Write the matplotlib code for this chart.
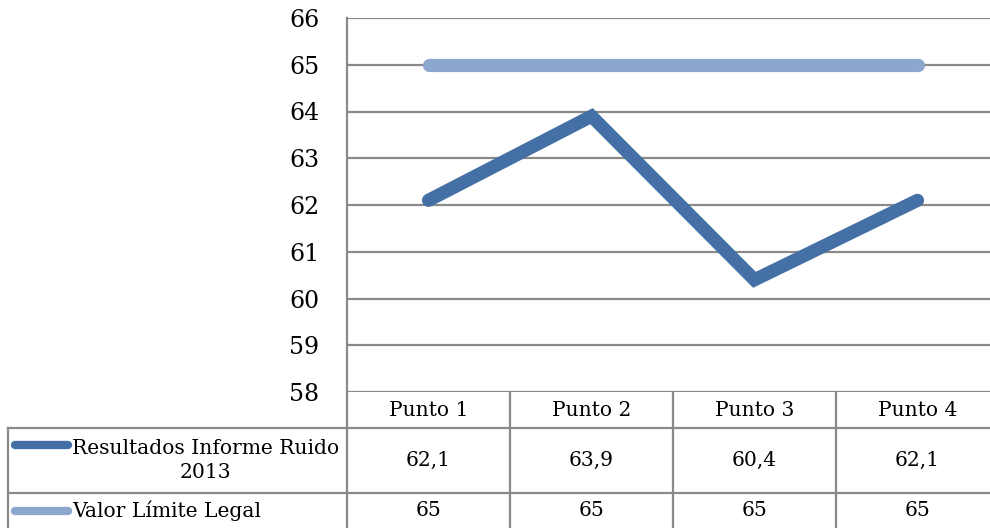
import matplotlib
matplotlib.use("Agg")
import matplotlib.pyplot as plt
from matplotlib.transforms import blended_transform_factory

# ---------------- data ---------------- #
categories = ["Punto 1", "Punto 2", "Punto 3", "Punto 4"]
ruido_2013 = [62.1, 63.9, 60.4, 62.1]
limite_legal = [65, 65, 65, 65]
series_names = ["Resultados Informe Ruido\n2013", "Valor Límite Legal"]
y_ticks = [58, 59, 60, 61, 62, 63, 64, 65, 66]

dark_blue = "#4470A6"
light_blue = "#8CA6CD"
grid_gray = "#8A8A8A"

plt.rcParams['font.family'] = ['DejaVu Serif']

W, H = 990, 528
fig = plt.figure(figsize=(W / 100, H / 100), dpi=100)

# pixel helpers for layout
def fx(px):
    return px / W

def fy(py):
    return 1 - py / H

# main chart axes (right edge runs past the image like the original)
ax = fig.add_axes([fx(347), fy(392), fx(999) - fx(347), fy(18) - fy(392)])
ax.plot(range(len(categories)), limite_legal, color=light_blue, lw=9.5,
        solid_capstyle='round', solid_joinstyle='round', zorder=3)
ax.plot(range(len(categories)), ruido_2013, color=dark_blue, lw=9.5,
        solid_capstyle='round', solid_joinstyle='miter', zorder=4)

ax.set_xlim(-0.5, len(categories) - 0.5)
ax.set_ylim(y_ticks[0], y_ticks[-1])
ax.set_yticks(y_ticks)
ax.set_xticks([])
ax.yaxis.grid(True, color=grid_gray, lw=1.6)
ax.set_axisbelow(True)
ax.tick_params(axis='y', length=0, pad=20, labelsize=17)
for s in ['top', 'right', 'bottom']:
    ax.spines[s].set_visible(False)
ax.spines['left'].set_color(grid_gray)
ax.spines['left'].set_linewidth(1.6)

# ---------------- data table ---------------- #
trans = blended_transform_factory(ax.transData, fig.transFigure)
line_kw = dict(color=grid_gray, lw=1.6, clip_on=False)
fs = 14.6

y_top, y_r1, y_r2, y_bot = fy(392), fy(428), fy(493), fy(540)

# horizontal rules
fig.add_artist(plt.Line2D([fx(8), fx(999)], [y_r1, y_r1], **line_kw))
fig.add_artist(plt.Line2D([fx(8), fx(999)], [y_r2, y_r2], **line_kw))
fig.add_artist(plt.Line2D([fx(8), fx(8)], [y_r1, y_bot], **line_kw))

# vertical rules at column edges
for i in range(len(categories)):
    ax.plot([i - 0.5, i - 0.5], [y_top, y_bot], transform=trans, **line_kw)

# header and values
for i, cat in enumerate(categories):
    ax.text(i, (y_top + y_r1) / 2, cat, transform=trans, ha='center', va='center', fontsize=fs)
    ax.text(i, (y_r1 + y_r2) / 2, f"{ruido_2013[i]:.1f}".replace('.', ','), transform=trans,
            ha='center', va='center', fontsize=fs)
    ax.text(i, fy(511), f"{limite_legal[i]:g}", transform=trans,
            ha='center', va='center', fontsize=fs)

# legend keys in row labels
fig.add_artist(plt.Line2D([fx(15), fx(68)], [fy(445), fy(445)], color=dark_blue, lw=6,
                          solid_capstyle='round'))
fig.add_artist(plt.Line2D([fx(15), fx(68)], [fy(511), fy(511)], color=light_blue, lw=6,
                          solid_capstyle='round'))
fig.text(fx(72), (y_r1 + y_r2) / 2, series_names[0], ha='left', va='center',
         multialignment='center', fontsize=fs, linespacing=1.3)
fig.text(fx(72), fy(511), series_names[1], ha='left', va='center', fontsize=fs)

fig.savefig("out.png", dpi=100)
